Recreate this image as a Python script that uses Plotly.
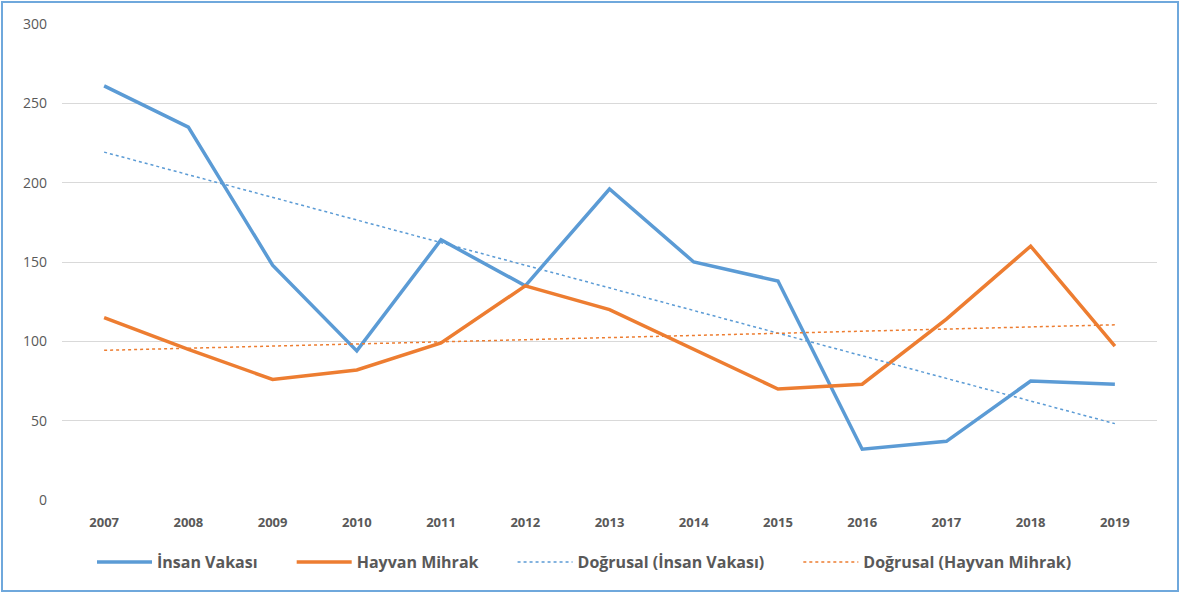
import numpy as np
import plotly.graph_objects as go

years = ["2007", "2008", "2009", "2010", "2011", "2012", "2013",
         "2014", "2015", "2016", "2017", "2018", "2019"]
insan_vakasi = [261, 235, 148, 94, 164, 135, 196, 150, 138, 32, 37, 75, 73]
hayvan_mihrak = [115, 95, 76, 82, 99, 135, 120, 95, 70, 73, 114, 160, 97]
y_ticks = [0, 50, 100, 150, 200, 250, 300]

BLUE = "#5b9bd5"
ORANGE = "#ed7d31"
TXT = "#595959"

x = np.arange(len(years))


def trend(vals):
    m, b = np.polyfit(x, vals, 1)
    return m * x + b


PAD = "\u00a0" * 7
fig = go.Figure()
fig.add_trace(go.Scatter(x=x, y=insan_vakasi, mode="lines", name="İnsan Vakası" + PAD,
                         line=dict(color=BLUE, width=3.5)))
fig.add_trace(go.Scatter(x=x, y=hayvan_mihrak, mode="lines", name="Hayvan Mihrak" + PAD,
                         line=dict(color=ORANGE, width=3.5)))
fig.add_trace(go.Scatter(x=x, y=trend(insan_vakasi), mode="lines",
                         name="Doğrusal (İnsan Vakası)" + PAD,
                         line=dict(color=BLUE, width=1.5, dash="dot")))
fig.add_trace(go.Scatter(x=x, y=trend(hayvan_mihrak), mode="lines",
                         name="Doğrusal (Hayvan Mihrak)",
                         line=dict(color=ORANGE, width=1.5, dash="dot")))

L, R, T, B = 62, 23, 23, 92
W, H = 1180, 593
pw, ph = W - L - R, H - T - B

fig.update_layout(
    width=W, height=H,
    margin=dict(l=L, r=R, t=T, b=B),
    paper_bgcolor="white", plot_bgcolor="white",
    font=dict(family="Open Sans, DejaVu Sans, sans-serif", color=TXT, size=13),
    showlegend=True,
    legend=dict(orientation="h", x=(100 - 8 - L) / pw, xanchor="left", y=-61 / ph, yanchor="middle",
                font=dict(size=16, color=TXT, family="Open Sans, sans-serif", weight="bold"),
                itemwidth=55, traceorder="normal"),
    xaxis=dict(tickmode="array", tickvals=x, ticktext=years, range=[-0.5, len(years) - 0.5],
               showgrid=False, zeroline=False, showline=False,
               tickfont=dict(size=13, color=TXT, weight="bold"), ticklabelstandoff=12),
    yaxis=dict(range=[-0.6, 300.6], tickvals=y_ticks, showgrid=True, gridcolor="#d9d9d9",
               gridwidth=1, zeroline=False, showline=False,
               tickfont=dict(size=14, color=TXT), ticklabelstandoff=14),
    shapes=[dict(type="rect", xref="paper", yref="paper",
                 x0=(-L + 2) / pw, x1=1 + (R - 2) / pw,
                 y0=(-B + 2) / ph, y1=1 + (T - 2) / ph,
                 line=dict(color="#6fa8dc", width=2), layer="below")],
)

fig.write_html("out.html", config={"displayModeBar": False},
               post_script="document.body.style.margin='0';document.body.style.padding='0';")
